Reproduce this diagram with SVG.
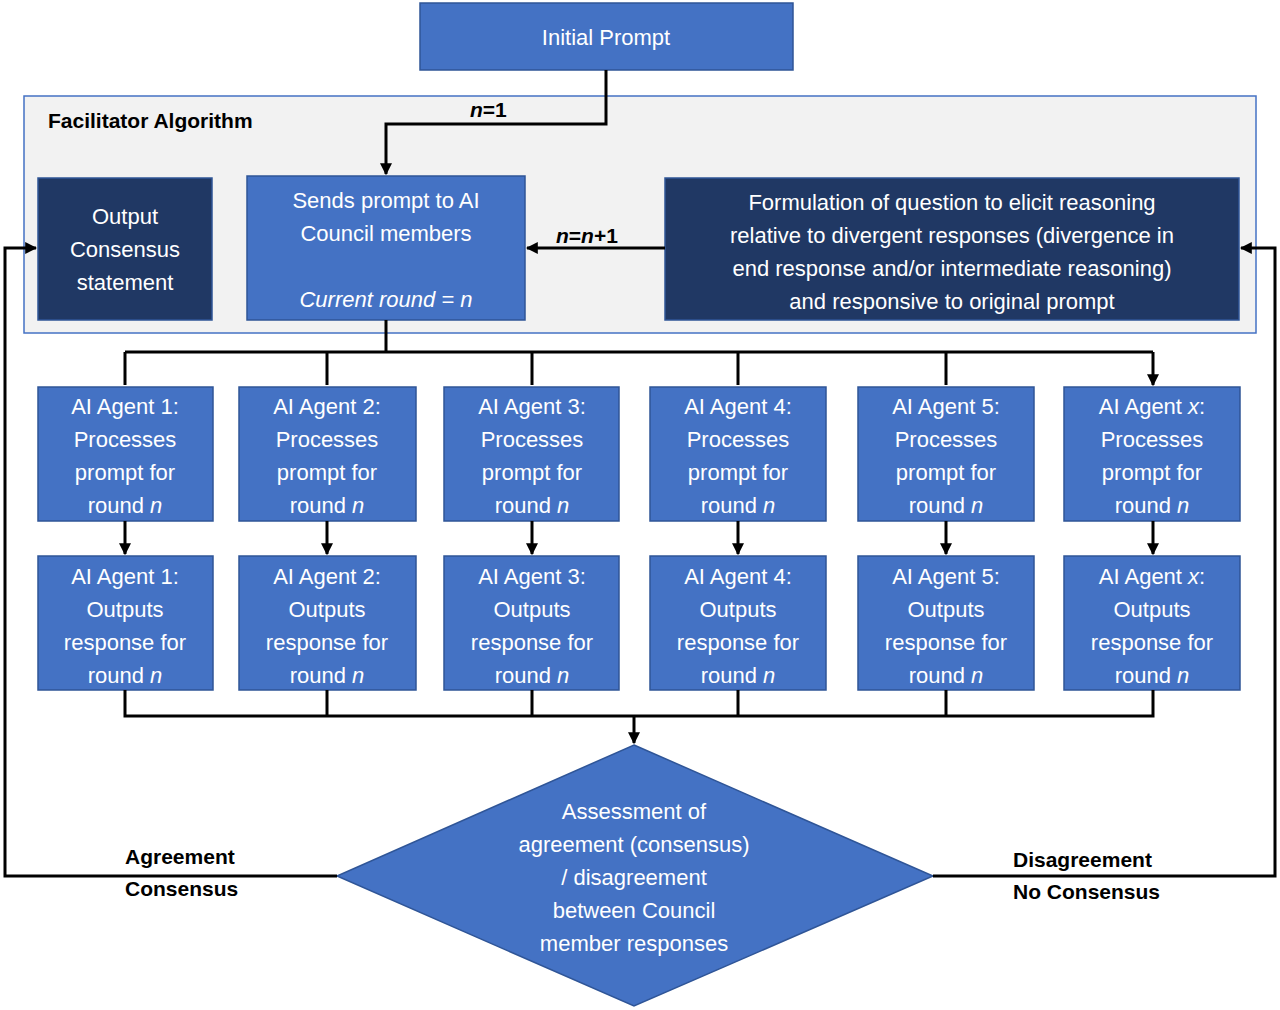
<svg xmlns="http://www.w3.org/2000/svg" width="1280" height="1010" viewBox="0 0 1280 1010">
<defs>
<marker id="a" viewBox="0 0 10 10" refX="9" refY="5" markerWidth="4" markerHeight="4" orient="auto"><path d="M0,0L10,5L0,10z" fill="#000"/></marker>
<style>
.b{fill:#4472C4;stroke:#2F5597;stroke-width:1.5}
.d{fill:#203864;stroke:#2F5597;stroke-width:1.5}
.t{font-family:"Liberation Sans",Arial,sans-serif;font-size:22px;fill:#fff;text-anchor:middle}
.l{font-family:"Liberation Sans",Arial,sans-serif;font-size:21px;font-weight:bold;fill:#000}
.c{fill:none;stroke:#000;stroke-width:3}
</style>
</defs>
<rect x="24" y="96" width="1232" height="237" fill="#F2F2F2" stroke="#4472C4" stroke-width="1.5"/>
<text class="l" x="48" y="128">Facilitator Algorithm</text>
<g id="initial"><rect class="b" x="420" y="3" width="373" height="67"/><text class="t" x="606" y="45">Initial Prompt</text></g>
<g id="output"><rect class="d" x="38" y="178" width="174" height="142"/><text class="t" x="125" y="224">Output</text><text class="t" x="125" y="257">Consensus</text><text class="t" x="125" y="290">statement</text></g>
<g id="sends"><rect class="b" x="247" y="176" width="278" height="144"/><text class="t" x="386" y="208">Sends prompt to AI</text><text class="t" x="386" y="241">Council members</text><text class="t" x="386" y="307" font-style="italic">Current round = n</text></g>
<g id="formulation"><rect class="d" x="665" y="178" width="574" height="142"/><text class="t" x="952" y="210">Formulation of question to elicit reasoning</text><text class="t" x="952" y="243">relative to divergent responses (divergence in</text><text class="t" x="952" y="276">end response and/or intermediate reasoning)</text><text class="t" x="952" y="309">and responsive to original prompt</text></g>
<g id="p1"><rect class="b" x="38" y="387" width="175" height="134"/><text class="t" x="125" y="414">AI Agent 1:</text><text class="t" x="125" y="447">Processes</text><text class="t" x="125" y="480">prompt for</text><text class="t" x="125" y="513">round <tspan font-style="italic">n</tspan></text></g>
<g id="p2"><rect class="b" x="239" y="387" width="177" height="134"/><text class="t" x="327" y="414">AI Agent 2:</text><text class="t" x="327" y="447">Processes</text><text class="t" x="327" y="480">prompt for</text><text class="t" x="327" y="513">round <tspan font-style="italic">n</tspan></text></g>
<g id="p3"><rect class="b" x="444" y="387" width="175" height="134"/><text class="t" x="532" y="414">AI Agent 3:</text><text class="t" x="532" y="447">Processes</text><text class="t" x="532" y="480">prompt for</text><text class="t" x="532" y="513">round <tspan font-style="italic">n</tspan></text></g>
<g id="p4"><rect class="b" x="650" y="387" width="176" height="134"/><text class="t" x="738" y="414">AI Agent 4:</text><text class="t" x="738" y="447">Processes</text><text class="t" x="738" y="480">prompt for</text><text class="t" x="738" y="513">round <tspan font-style="italic">n</tspan></text></g>
<g id="p5"><rect class="b" x="858" y="387" width="176" height="134"/><text class="t" x="946" y="414">AI Agent 5:</text><text class="t" x="946" y="447">Processes</text><text class="t" x="946" y="480">prompt for</text><text class="t" x="946" y="513">round <tspan font-style="italic">n</tspan></text></g>
<g id="px"><rect class="b" x="1064" y="387" width="176" height="134"/><text class="t" x="1152" y="414">AI Agent <tspan font-style="italic">x</tspan>:</text><text class="t" x="1152" y="447">Processes</text><text class="t" x="1152" y="480">prompt for</text><text class="t" x="1152" y="513">round <tspan font-style="italic">n</tspan></text></g>
<g id="o1"><rect class="b" x="38" y="556" width="175" height="134"/><text class="t" x="125" y="584">AI Agent 1:</text><text class="t" x="125" y="617">Outputs</text><text class="t" x="125" y="650">response for</text><text class="t" x="125" y="683">round <tspan font-style="italic">n</tspan></text></g>
<g id="o2"><rect class="b" x="239" y="556" width="177" height="134"/><text class="t" x="327" y="584">AI Agent 2:</text><text class="t" x="327" y="617">Outputs</text><text class="t" x="327" y="650">response for</text><text class="t" x="327" y="683">round <tspan font-style="italic">n</tspan></text></g>
<g id="o3"><rect class="b" x="444" y="556" width="175" height="134"/><text class="t" x="532" y="584">AI Agent 3:</text><text class="t" x="532" y="617">Outputs</text><text class="t" x="532" y="650">response for</text><text class="t" x="532" y="683">round <tspan font-style="italic">n</tspan></text></g>
<g id="o4"><rect class="b" x="650" y="556" width="176" height="134"/><text class="t" x="738" y="584">AI Agent 4:</text><text class="t" x="738" y="617">Outputs</text><text class="t" x="738" y="650">response for</text><text class="t" x="738" y="683">round <tspan font-style="italic">n</tspan></text></g>
<g id="o5"><rect class="b" x="858" y="556" width="176" height="134"/><text class="t" x="946" y="584">AI Agent 5:</text><text class="t" x="946" y="617">Outputs</text><text class="t" x="946" y="650">response for</text><text class="t" x="946" y="683">round <tspan font-style="italic">n</tspan></text></g>
<g id="ox"><rect class="b" x="1064" y="556" width="176" height="134"/><text class="t" x="1152" y="584">AI Agent <tspan font-style="italic">x</tspan>:</text><text class="t" x="1152" y="617">Outputs</text><text class="t" x="1152" y="650">response for</text><text class="t" x="1152" y="683">round <tspan font-style="italic">n</tspan></text></g>
<g id="assess"><path class="b" d="M634,745L933,876L634,1006L337,876z"/><text class="t" x="634" y="819">Assessment of</text><text class="t" x="634" y="852">agreement (consensus)</text><text class="t" x="634" y="885">/ disagreement</text><text class="t" x="634" y="918">between Council</text><text class="t" x="634" y="951">member responses</text></g>
<g id="connectors">
<path class="c" d="M606,70V124H386V174" marker-end="url(#a)"/>
<path class="c" d="M665,248H527" marker-end="url(#a)"/>
<path class="c" d="M386,320V352M125,352H1153"/>
<path class="c" d="M125,352V385M327,352V385M532,352V385M738,352V385M946,352V385M1153,352V385" marker-end="url(#a)"/>
<path class="c" d="M125,521V554" marker-end="url(#a)"/><path class="c" d="M327,521V554" marker-end="url(#a)"/><path class="c" d="M532,521V554" marker-end="url(#a)"/><path class="c" d="M738,521V554" marker-end="url(#a)"/><path class="c" d="M946,521V554" marker-end="url(#a)"/><path class="c" d="M1153,521V554" marker-end="url(#a)"/>
<path class="c" d="M125,690V716H1153V690M327,690V716M532,690V716M738,690V716M946,690V716"/>
<path class="c" d="M634,716V743" marker-end="url(#a)"/>
<path class="c" d="M337,876H5V248H36" marker-end="url(#a)"/>
<path class="c" d="M933,876H1275V248H1241" marker-end="url(#a)"/>
</g>
<text class="l" x="470" y="117"><tspan font-style="italic">n</tspan>=1</text>
<text class="l" x="556" y="243"><tspan font-style="italic">n</tspan>=<tspan font-style="italic">n</tspan>+1</text>
<text class="l" x="125" y="864">Agreement</text><text class="l" x="125" y="896">Consensus</text>
<text class="l" x="1013" y="867">Disagreement</text><text class="l" x="1013" y="899">No Consensus</text>
</svg>
